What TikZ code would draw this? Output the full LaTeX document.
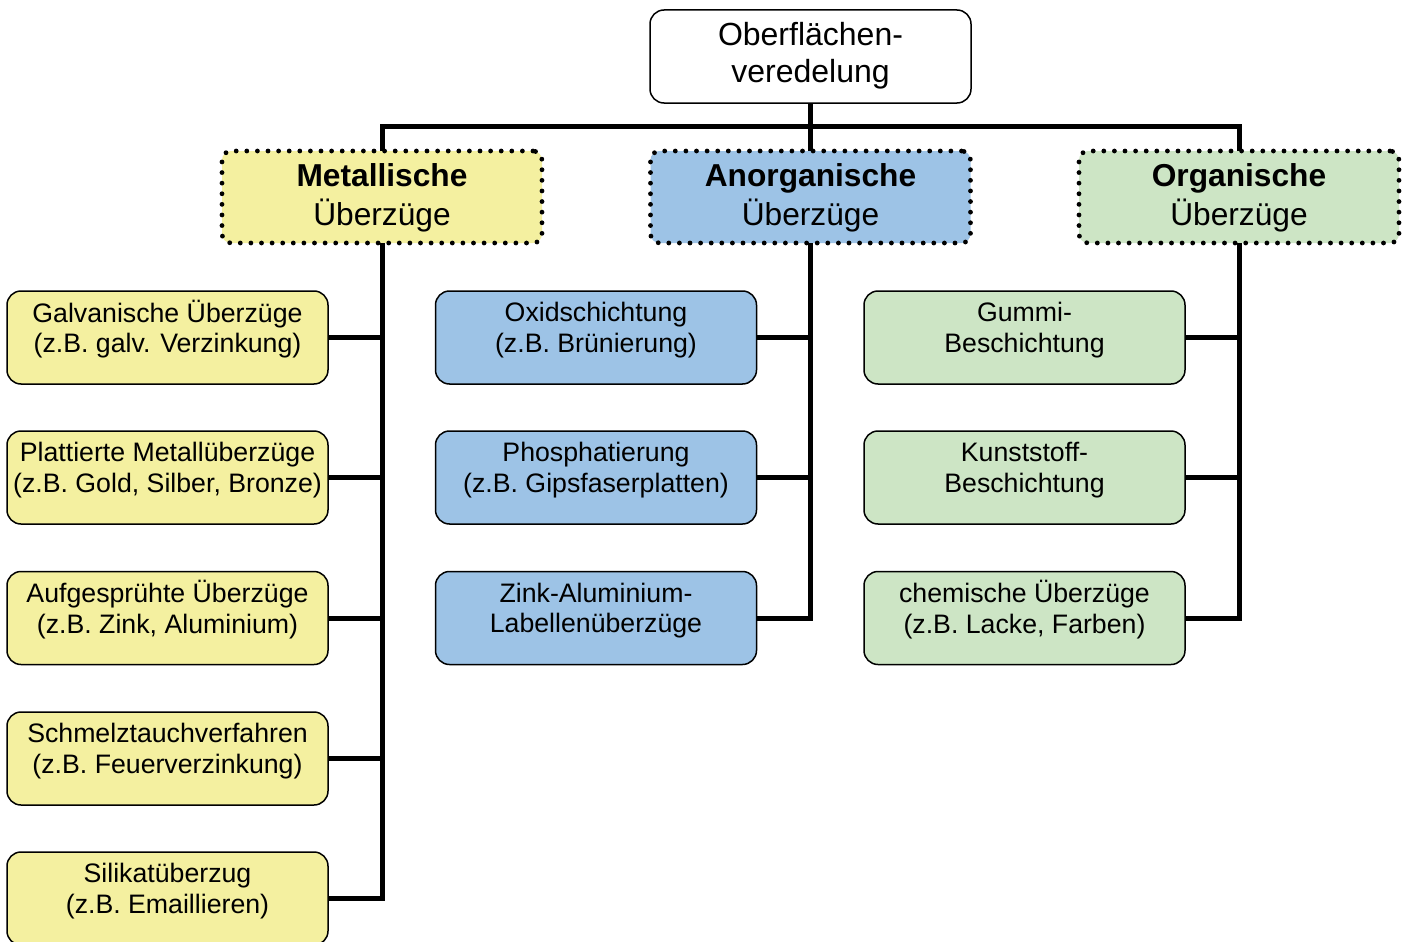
\documentclass[tikz,border=0pt]{standalone}
\usepackage{fontspec}
\setmainfont{Liberation Sans}
\definecolor{yel}{RGB}{244,240,160}
\definecolor{blu}{RGB}{157,195,230}
\definecolor{grn}{RGB}{205,229,197}
\tikzset{
  leafbox/.style={draw=black, line width=1.5pt, rounded corners=14pt, minimum width=321pt, minimum height=93pt, inner sep=0pt, outer sep=0pt},
  leaftxt/.style={align=center, inner sep=0pt, font=\fontsize{26.7}{30.7}\selectfont},
  catbox/.style={draw=black, line width=4.8pt, dash pattern=on 0pt off 10.6pt, line cap=round, rounded corners=9pt, minimum width=320pt, minimum height=92pt, inner sep=0pt, outer sep=0pt},
  cattxt/.style={align=center, inner sep=0pt, font=\fontsize{31.7}{37}\selectfont},
  topbox/.style={draw=black, line width=1.5pt, rounded corners=14pt, fill=white, minimum width=321pt, minimum height=93pt, inner sep=0pt, outer sep=0pt, align=center, font=\fontsize{32}{36.5}\selectfont},
  conn/.style={line width=5pt, line join=miter}
}
\newcommand\leafnode[5]{%
  \node[leafbox, fill=#4] (#1) at (#2,#3) {};
  \node[leaftxt] (#1t) at ([yshift=6.5pt]#1.center) {#5};}
\begin{document}
\begin{tikzpicture}[x=1pt,y=-1pt]
\useasboundingbox (0,0) rectangle (1409,942);
% top
\node[topbox] (top) at (810.5,56.5) {\strut Oberflächen-\\veredelung\strut};
% categories
\node[catbox, fill=yel] (met) at (382,197) {};
\node[cattxt] (mett) at ([yshift=-1.5pt]met.center) {\strut\textbf{Metallische}\\Überzüge\strut};
\node[catbox, fill=blu] (ano) at (810.5,197) {};
\node[cattxt] (anot) at ([yshift=-1.5pt]ano.center) {\strut\textbf{Anorganische}\\Überzüge\strut};
\node[catbox, fill=grn] (org) at (1239,197) {};
\node[cattxt] (orgt) at ([yshift=-1.5pt]org.center) {\strut\textbf{Organische}\\Überzüge\strut};
% left leaves
\leafnode{l1}{167.5}{337.5}{yel}{\strut Galvanische Überzüge\\(z.B. galv. Verzinkung)\strut}
\leafnode{l2}{167.5}{477.5}{yel}{\strut Plattierte Metallüberzüge\\(z.B. Gold, Silber, Bronze)\strut}
\leafnode{l3}{167.5}{618}{yel}{\strut Aufgesprühte Überzüge\\(z.B. Zink, Aluminium)\strut}
\leafnode{l4}{167.5}{758.5}{yel}{\strut Schmelztauchverfahren\\(z.B. Feuerverzinkung)\strut}
\leafnode{l5}{167.5}{898.5}{yel}{\strut Silikatüberzug\\(z.B. Emaillieren)\strut}
% middle leaves
\leafnode{m1}{596}{337.5}{blu}{\strut Oxidschichtung\\(z.B. Brünierung)\strut}
\leafnode{m2}{596}{477.5}{blu}{\strut Phosphatierung\\(z.B. Gipsfaserplatten)\strut}
\leafnode{m3}{596}{618}{blu}{\strut Zink-Aluminium-\\Labellenüberzüge\strut}
% right leaves
\leafnode{r1}{1024.5}{337.5}{grn}{\strut Gummi-\\Beschichtung\strut}
\leafnode{r2}{1024.5}{477.5}{grn}{\strut Kunststoff-\\Beschichtung\strut}
\leafnode{r3}{1024.5}{618}{grn}{\strut chemische Überzüge\\(z.B. Lacke, Farben)\strut}
% connectors top
\coordinate (hb) at (810.5,126);
\draw[conn] (top.south) -- (ano.north);
\draw[conn] (met.north) |- (hb) -| (org.north);
% left
\draw[conn] (met.south) |- (l5.east);
\foreach \n in {l1,l2,l3,l4} \draw[conn] (\n.east) -- (\n.east -| met.south);
% middle
\draw[conn] (ano.south) |- (m3.east);
\foreach \n in {m1,m2} \draw[conn] (\n.east) -- (\n.east -| ano.south);
% right
\draw[conn] (org.south) |- (r3.east);
\foreach \n in {r1,r2} \draw[conn] (\n.east) -- (\n.east -| org.south);
\end{tikzpicture}
\end{document}
